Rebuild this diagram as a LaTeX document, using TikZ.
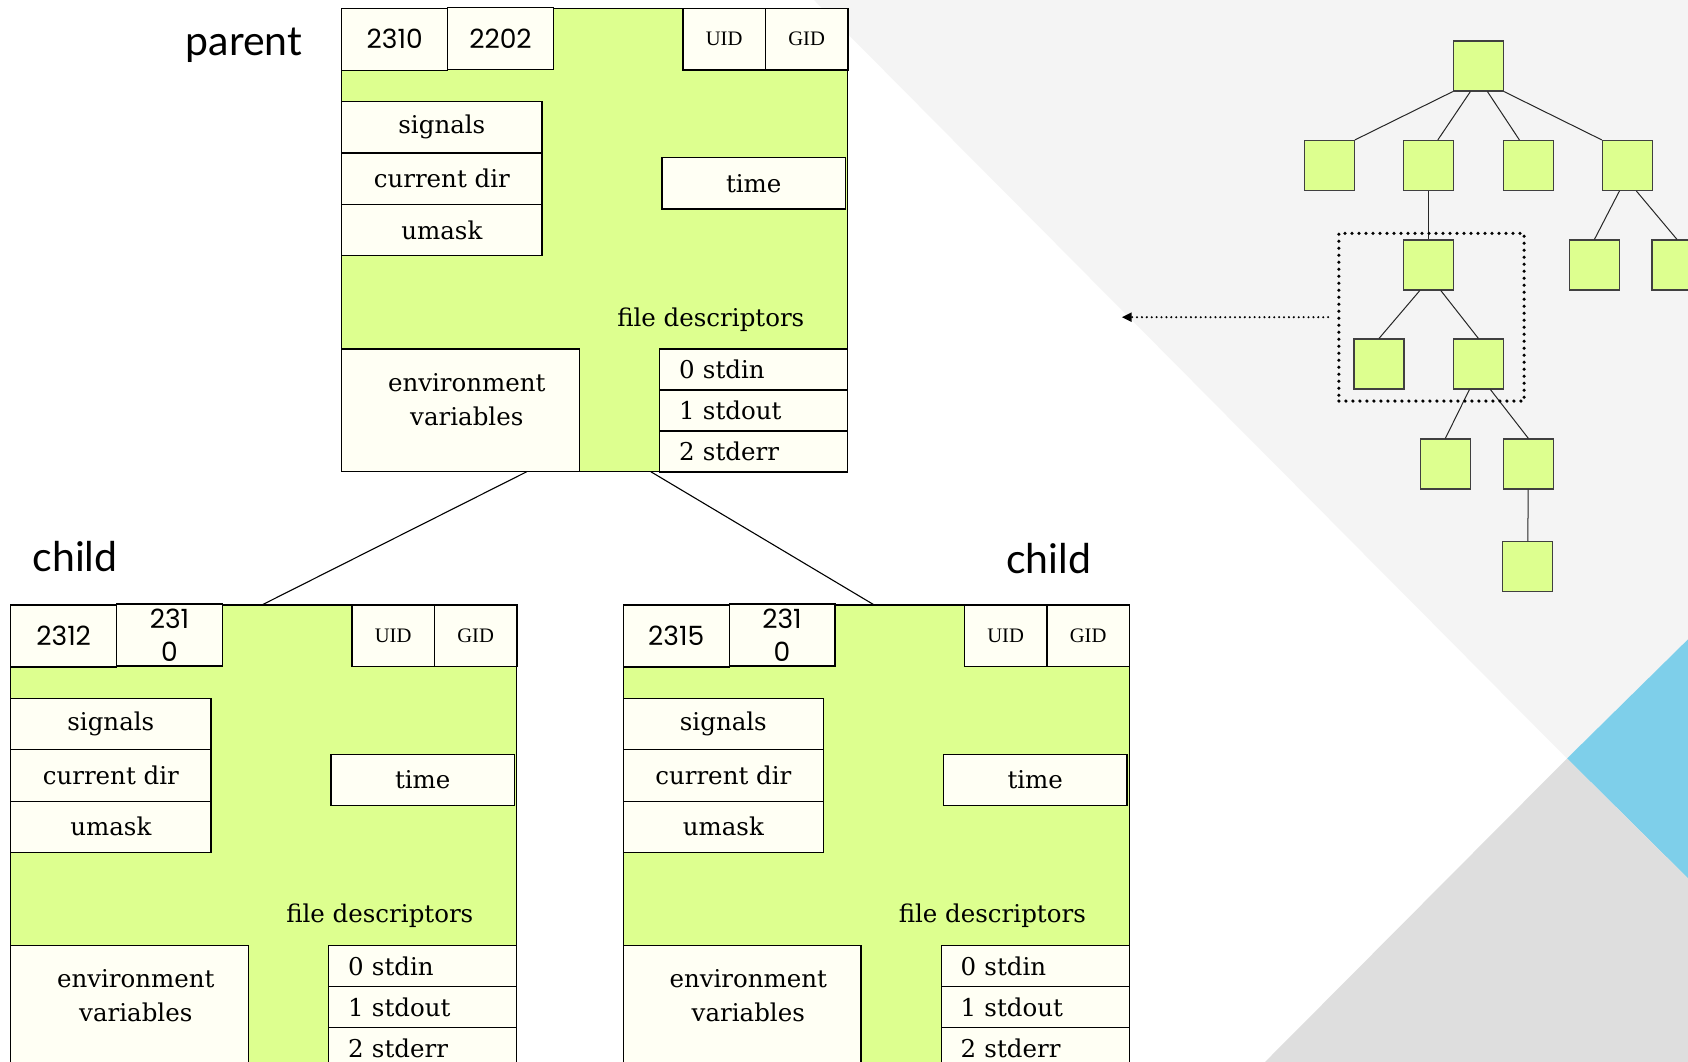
\documentclass[tikz,border=0pt]{standalone}
\usepackage{fontspec}
\setmainfont{DejaVu Serif}
\newfontfamily\numfont{Poppins}
\newfontfamily\idfont{Liberation Serif}
\newfontfamily\headfont{Lato}
\usetikzlibrary{arrows.meta,positioning}

\definecolor{procgreen}{HTML}{DDFF8F}
\definecolor{cellfill}{HTML}{FFFFF4}
\definecolor{paleback}{HTML}{F4F4F4}
\definecolor{darkback}{HTML}{DEDEDE}
\definecolor{skyback}{HTML}{7ECFEA}

% one process: name, top left corner, pid, ppid
\newcommand\procbox[4]{%
  \begin{scope}[shift={#2}]
    \node[area] (#1) at (253,231.7) {};
    \node[cell, idcell, anchor=north west] (#1-pid) at (0,0) {#3};
    \node[cell, idcell, anchor=north west] (#1-ppid) at (105.8,-1) {#4};
    \node[cell, ugcell, anchor=north west] (#1-uid) at (341.1,0) {UID};
    \node[cell, ugcell, right=0pt of #1-uid] (#1-gid) {GID};
    \node[cell, infocell, anchor=north west] (#1-sig) at (0,93.3) {signals};
    \node[cell, infocell, below=0pt of #1-sig] (#1-cwd) {current dir};
    \node[cell, infocell, below=0pt of #1-cwd] (#1-umask) {umask};
    \node[cell, minimum width=183.5pt, minimum height=51.4pt, anchor=north west] (#1-time) at (320.2,149.3) {time};
    \node (#1-fdlabel) at (369,311) {file descriptors};
    \node[cell, minimum width=237.7pt, minimum height=122.6pt, anchor=north west] (#1-env) at (0,340.7) {};
    \node[align=center] (#1-envtext) at (125,391) {environment\\variables};
    \node[fdcell, anchor=north west] (#1-fd0) at (317.8,340.7) {0 stdin};
    \node[fdcell, below=0pt of #1-fd0] (#1-fd1) {1 stdout};
    \node[fdcell, below=0pt of #1-fd1] (#1-fd2) {2 stderr};
    \coordinate (#1-up) at (251,0);
    \coordinate (#1-left) at (185,463.4);
    \coordinate (#1-right) at (309,463.4);
  \end{scope}}

\begin{document}
\begin{tikzpicture}[
    x=1pt, y=-1pt,
    every node/.style={font=\fontsize{24.5}{34}\selectfont},
    area/.style={draw, line width=1.2pt, fill=procgreen, minimum width=506pt, minimum height=463.4pt},
    cell/.style={draw, line width=1.2pt, fill=cellfill, inner sep=0pt, outer sep=0pt},
    idcell/.style={minimum width=105.8pt, minimum height=62pt, align=center, font=\numfont\fontsize{26.5}{33.4}\selectfont},
    ugcell/.style={minimum width=82.5pt, minimum height=61.7pt, font=\idfont\fontsize{20.6}{24}\selectfont},
    infocell/.style={minimum width=200.1pt, minimum height=51.4pt},
    fdcell/.style={cell, inner xsep=19.6pt, text width=149pt, align=left, minimum height=41pt},
    head/.style={font=\headfont\fontsize{41}{48}\selectfont},
    link/.style={line width=1.1pt},
    leaf/.style={draw=black!75, line width=1.1pt, fill=procgreen, minimum size=50pt, inner sep=0pt},
    branch/.style={line width=1pt, black!85},
    selbox/.style={draw, line width=3.6pt, dash pattern=on 0pt off 7pt, line cap=round, minimum width=185.2pt, minimum height=167.7pt},
    pointer/.style={line width=2.3pt, dash pattern=on 0pt off 4.9pt, line cap=round, -{Triangle[length=10pt,width=9pt]}}
]
% page and backdrop
\fill[white] (0,0) rectangle (1688,1062);
\useasboundingbox (0,0) rectangle (1688,1062);
\fill[paleback] (814,0) -- (1688,0) -- (1688,639.3) -- (1567,758.5) -- cycle;
\fill[skyback] (1567,758.5) -- (1688,639.3) -- (1688,878.3) -- cycle;
\fill[darkback] (1567,758.5) -- (1688,878.3) -- (1688,1062) -- (1265,1062) -- cycle;

% processes
\procbox{par}{(341.8,8.3)}{2310}{2202}
\procbox{kidl}{(10.8,605)}{2312}{231\\0}
\procbox{kidr}{(623.3,605)}{2315}{231\\0}
\draw[link] (par-left) -- (kidl-up);
\draw[link] (par-right) -- (kidr-up);

\node[head] (parlabel) at (244,45) {parent};
\node[head] (kidllabel) at (75,556.5) {child};
\node[head] (kidrlabel) at (1048.5,558.5) {child};

% process tree
\foreach \n/\x/\y in {troot/1478.4/66, ta/1329.3/165.5, tb/1428.8/165.5, tc/1528.4/165.5,
    td/1627.4/165.5, tb1/1428.8/265, td1/1594.4/265, td2/1677/265, tb1a/1379/364,
    tb1b/1478.4/364, tg1/1445.3/464, tg2/1528.4/464, th/1527.6/566.6}
  \node[leaf] (\n) at (\x,\y) {};
\draw[branch] (troot.south west) -- (ta.north east);
\draw[branch] ([xshift=-8pt]troot.south) -- ([xshift=9pt]tb.north);
\draw[branch] ([xshift=9pt]troot.south) -- ([xshift=-9pt]tc.north);
\draw[branch] (troot.south east) -- (td.north west);
\draw[branch] (tb) -- (tb1);
\foreach \p/\c/\s in {td/td1/-8, td/td2/9, tb1/tb1a/-9, tb1/tb1b/12, tb1b/tg1/-9, tb1b/tg2/12}
  \draw[branch] ([xshift=\s pt]\p.south) -- (\c.north);
\draw[branch] (tg2) -- (th);

\node[selbox] (sel) at (1431.5,317.2) {};
\coordinate (selpoint) at (1121.7,317.2);
\draw[pointer] ([xshift=-9pt]sel.west) -- (selpoint);
\end{tikzpicture}
\end{document}
